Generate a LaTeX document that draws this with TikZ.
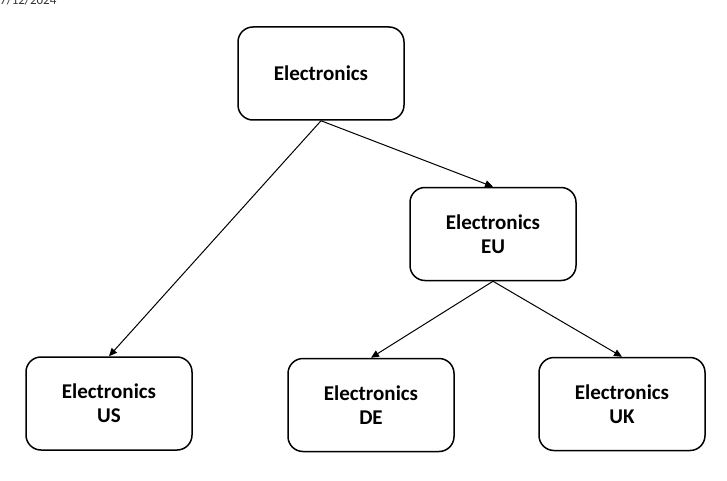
\documentclass[tikz,border=0pt]{standalone}
\usepackage{fontspec}
\setmainfont{Carlito}
\usetikzlibrary{arrows.meta}
\begin{document}
\begin{tikzpicture}[x=1pt,y=-1pt,
  box/.style={draw, line width=1.5pt, rounded corners=15pt, minimum width=166pt, minimum height=93pt, align=center, font=\bfseries\fontsize{21}{24}\selectfont, inner sep=0pt},
  conn/.style={line width=1pt, -{Triangle[length=8pt,width=7pt]}}]
\useasboundingbox (0,0) rectangle (727,481);
\node[anchor=base west, font=\fontsize{13}{15}\selectfont, text=black!80, inner sep=0pt] (date) at (0,4.5) {7/12/2024};
\node[box] (top) at (321,73.5) {Electronics};
\node[box] (eu) at (493,234) {Electronics\\EU};
\node[box] (us) at (109,403.5) {Electronics\\US};
\node[box] (de) at (371,405) {Electronics\\DE};
\node[box] (uk) at (622,404) {Electronics\\UK};
\draw[conn] (top.south) -- (us.north);
\draw[conn] (top.south) -- (eu.north);
\draw[conn] (eu.south) -- (de.north);
\draw[conn] (eu.south) -- (uk.north);
\end{tikzpicture}
\end{document}
